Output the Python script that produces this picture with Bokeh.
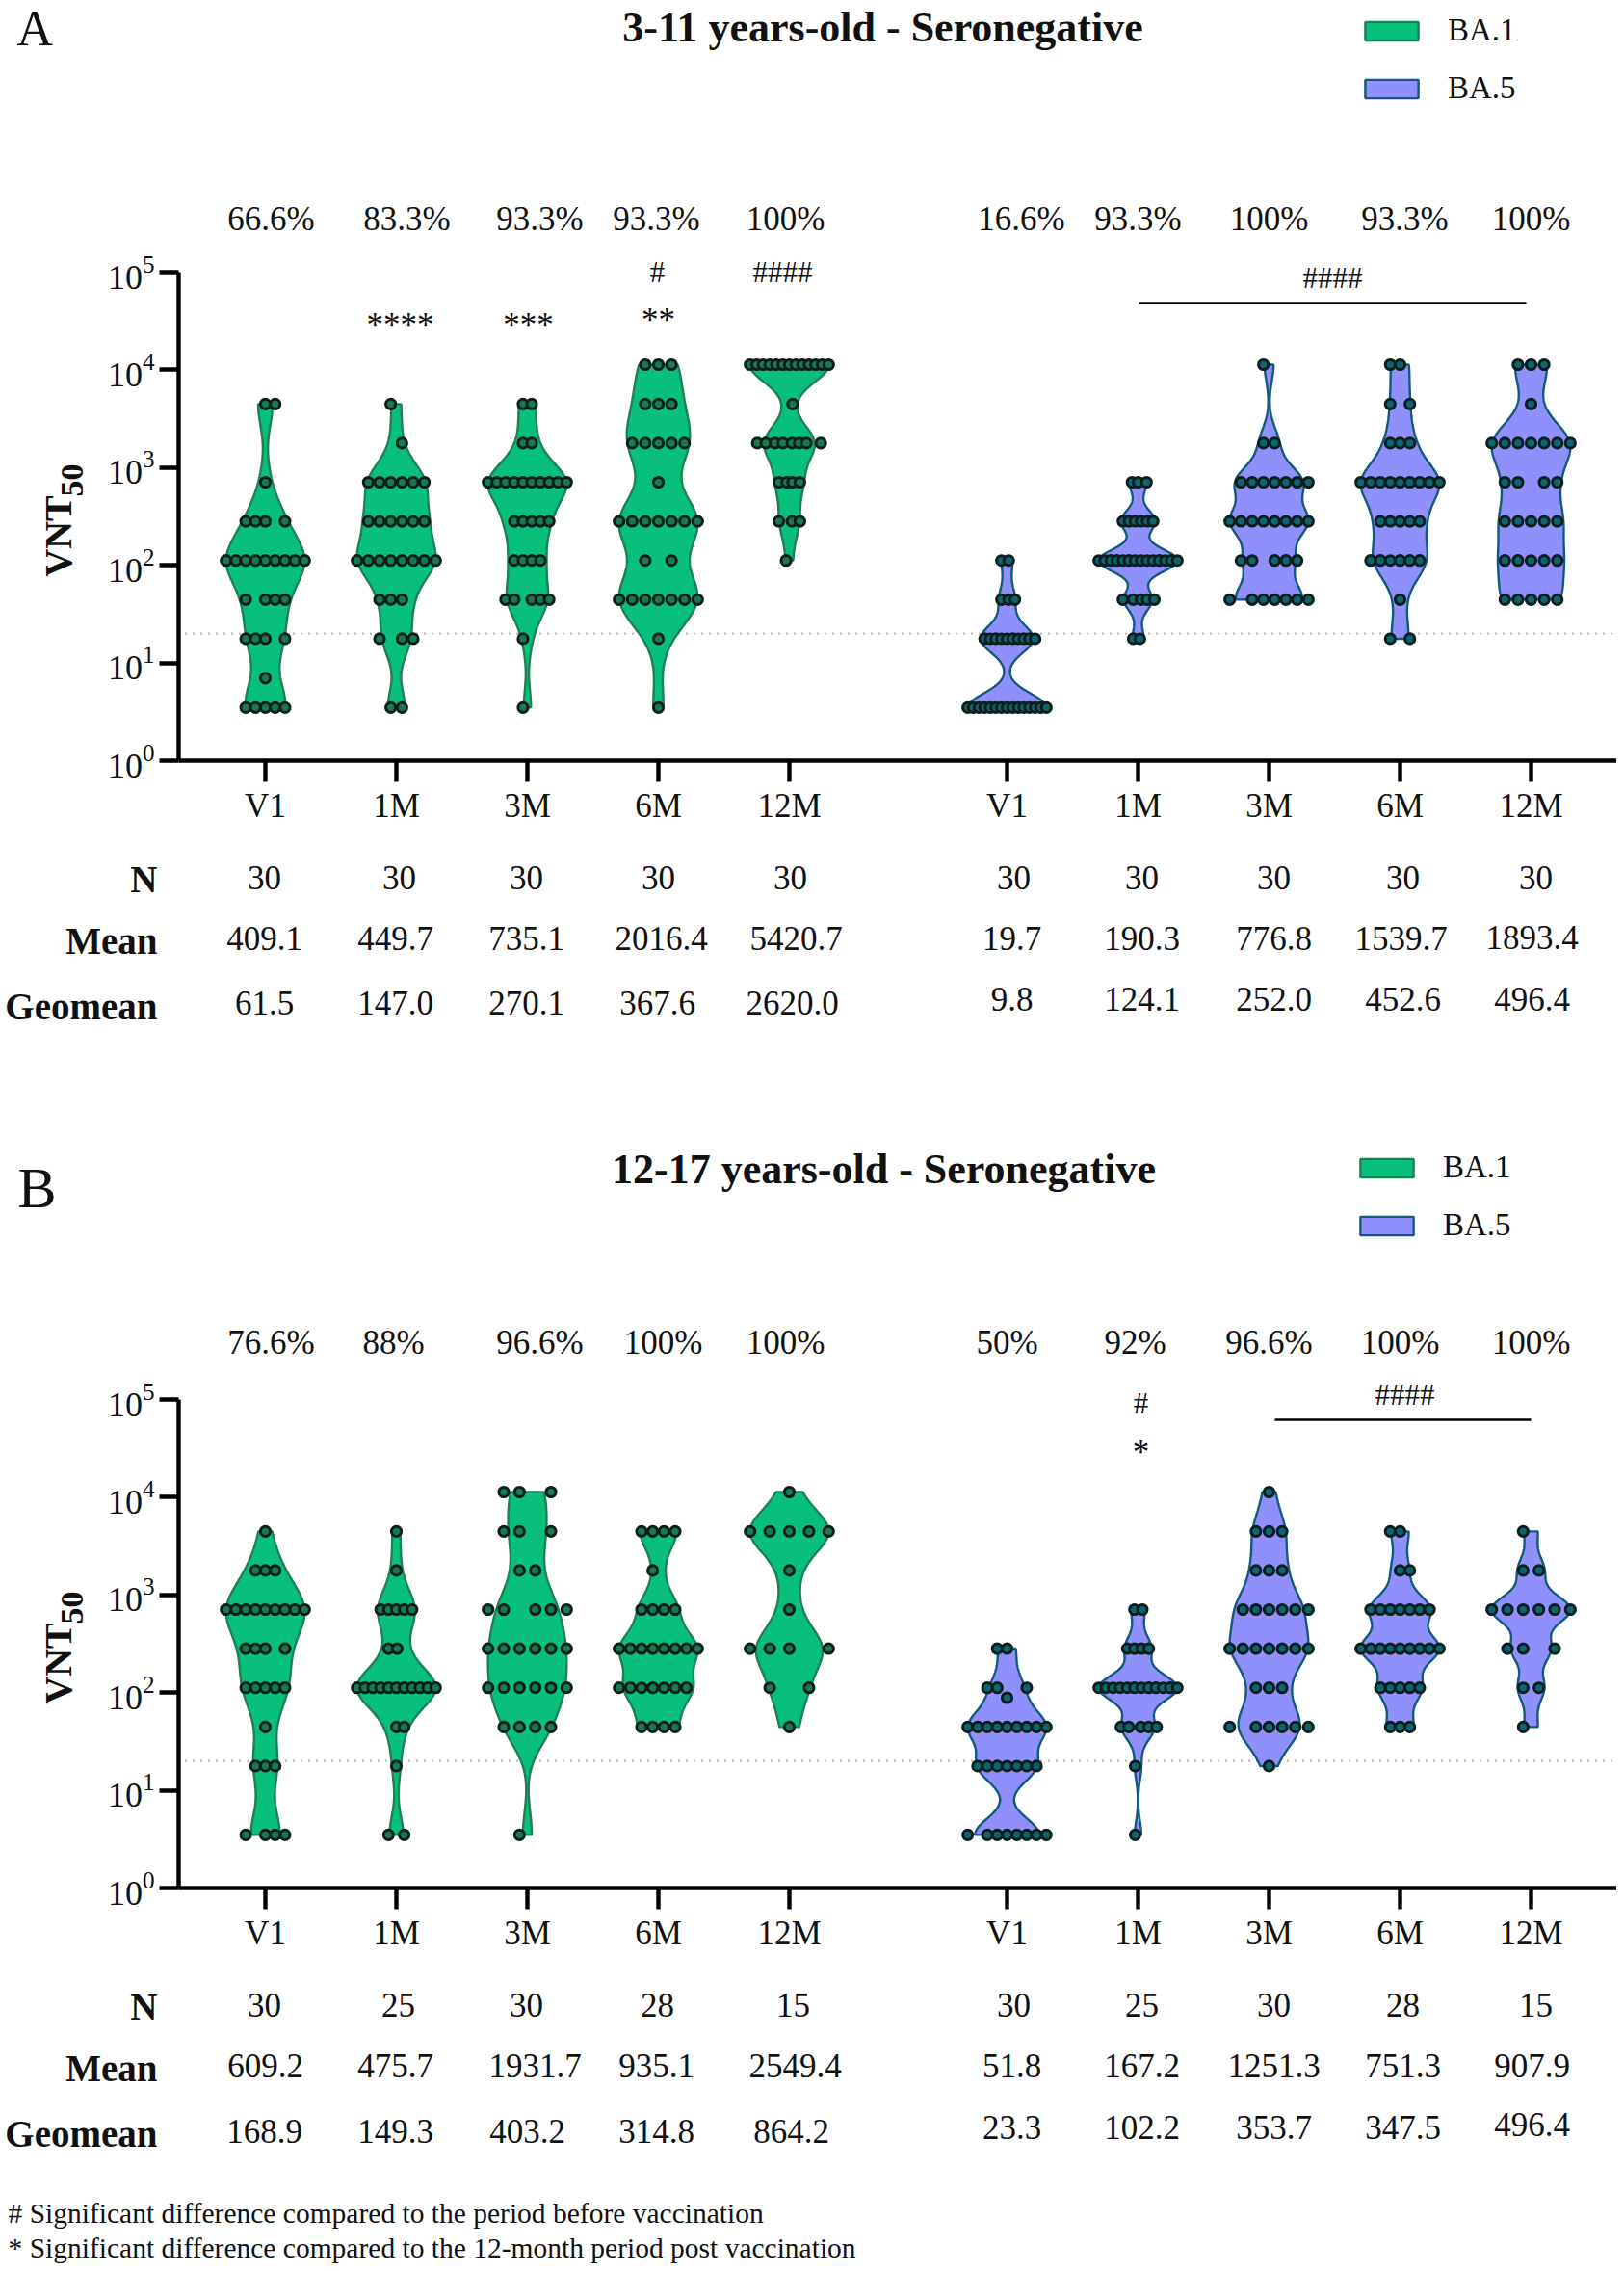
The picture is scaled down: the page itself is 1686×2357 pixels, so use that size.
import math
import numpy as np
from bokeh.embed import file_html
from bokeh.layouts import column
from bokeh.models import FixedTicker, Label, Legend, LegendItem
from bokeh.plotting import figure
from bokeh.resources import INLINE

# ---------- data ----------
TIMEPOINTS = ["V1", "1M", "3M", "6M", "12M"]
# one dict per violin: titre -> the swarm slots of the dots on that row
A_BA1 = [
    {4470: [0, 1], 708: [0], 282: [-2, -1, 0, 2], 112: [-4, -3, -2, -1, 0, 1, 2, 3, 4], 44.5: [-2, 0, 1, 2],
     17.7: [-2, -1, 0, 2], 7: [0], 3.5: [-2, -1, 0, 1, 2]},
    {4470: [-.5], 1780: [.5], 708: [-2.5, -1.5, -.5, .5, 1.5, 2.5], 282: [-2.5, -1.5, -.5, .5, 1.5, 2.5],
     112: [-3.5, -2.5, -1.5, -.5, .5, 1.5, 2.5, 3.5], 44.5: [-1.5, -.5, .5], 17.7: [-1.5, .5, 1.5], 3.5: [-.5, .5]},
    {4470: [-.5, .5], 1780: [-.5, .5], 708: [-4.5, -3.5, -2.5, -1.5, -.5, .5, 1.5, 2.5, 3.5, 4.5],
     282: [-1.5, -.5, .5, 1.5, 2.5], 112: [-1.5, -.5, .5, 1.5], 44.5: [-2.5, -1.5, .5, 1.5, 2.5], 17.7: [-.5], 3.5: [-.5]},
    {11300: [-1, 0, 1], 4470: [-1, 0, 1], 1780: [-2, -1, 0, 1, 2], 708: [0], 282: [-3, -2, -1, 0, 1, 2, 3],
     112: [-1, 1], 44.5: [-3, -2, -1, 0, 1, 2, 3], 17.7: [0], 3.5: [0]},
    {11300: [-6, -5, -4, -3, -2, -1, 0, 1, 2, 3, 4, 5, 6], 4470: [.5],
     1780: [-4.9, -3.6, -2.2, -1, .4, 1.5, 2.6, 4.8], 708: [-1.6, -.4, .5, 1.6], 282: [-1.6, .4, 1.6], 112: [-.5]},
]
A_BA5 = [
    {112: [-1, .3], 44.5: [-1, .3, 1.4], 17.7: [-4, -3, -2, -1, 0, 1, 2, 3, 4, 5],
     3.5: [-7, -6, -5, -4, -3, -2, -1, 0, 1, 2, 3, 4, 5, 6, 7]},
    {708: [-1, 0, 1.4], 282: [-2.5, -1.5, -.5, .5, 1.5, 2.5],
     112: [-6.5, -5.5, -4.5, -3.5, -2.5, -1.5, -.5, .5, 1.5, 2.5, 3.5, 4.5, 5.5, 6.5],
     44.5: [-2.5, -.8, .5, 1.5, 2.7], 17.7: [-.8, .3]},
    {11300: [-.5], 1780: [-.5, .5], 708: [-2.5, -1.5, -.5, .5, 1.5, 2.5, 3.5],
     282: [-3.5, -2.5, -1.5, -.5, .5, 1.5, 2.5, 3.5], 112: [-2.5, -1.5, .5, 1.5, 2.5],
     44.5: [-3.5, -1.5, -.5, .5, 1.5, 2.5, 3.5]},
    {11300: [-1, 0], 4470: [-1, 1], 1780: [-1, 0, 1], 708: [-4, -3, -2, -1, 0, 1, 2, 3, 4], 282: [-2, -1, 0, 1, 2],
     112: [-3, -2, -1, 0, 1, 2], 44.5: [0], 17.7: [-1, 1]},
    {11300: [-1, 0, 1], 4470: [0], 1780: [-3, -2, -1, 0, 1, 2, 3], 708: [-2, -1, 1, 2], 282: [-2, -1, 0, 1, 2],
     112: [-2, -1, 0, 1, 2], 44.5: [-2, -1, 0, 1, 2]},
]
B_BA1 = [
    {4470: [0], 1780: [-1, 0, 1], 708: [-4, -3, -2, -1, 0, 1, 2, 3, 4], 282: [-2, -1, 0, 2], 112: [-2, -1, 0, 1, 2],
     44.5: [0], 17.7: [-1, 0, 1], 3.5: [-2, 0, 1, 2]},
    {4470: [0], 1780: [0], 708: [-2, -1, 0, 1, 2], 282: [-1, .1], 112: [-5, -4, -3, -2, -1, 0, 1, 2, 3, 4, 5],
     44.5: [0, 1], 17.7: [0], 3.5: [-1, 1]},
    {11300: [-1.5, -.5, 1.5], 4470: [-1.5, -.5, 1.5], 1780: [-.5, .5], 708: [-2.5, -1.5, .5, 1.5, 2.5],
     282: [-2.5, -1.5, -.5, .5, 1.5, 2.5], 112: [-2.5, -1.5, -.5, .5, 1.5, 2.5], 44.5: [-1.5, -.5, .5, 1.5], 3.5: [-.5]},
    {4470: [-1.5, -.5, .5, 1.5], 1780: [-.5], 708: [-1.5, -.5, .5, 1.5],
     282: [-3.5, -2.5, -1.5, -.5, .5, 1.5, 2.5, 3.5], 112: [-3.5, -2.5, -1.5, -.5, .5, 1.5, 2.5],
     44.5: [-1.5, -.5, .5, 1.5]},
    {11300: [0], 4470: [-2, -1, 0, 1, 2], 1780: [0], 708: [0], 282: [-2, -1, 0, 2], 112: [-1, 1], 44.5: [0]},
]
B_BA5 = [
    {282: [-1, 0], 112: [-2, -1, 2], 88.7: [0], 44.5: [-4, -3, -2, -1, 0, 1, 2, 3, 4],
     17.7: [-3, -2, -1, 0, 1, 2, 3], 3.5: [-4, -2, -1, 0, 1, 2, 3, 4]},
    {708: [-.5, .6], 282: [-1.5, -.5, .5, 1.5],
     112: [-5.5, -4.5, -3.5, -2.5, -1.5, -.5, .5, 1.5, 2.5, 3.5, 4.5, 5.5],
     44.5: [-2.4, -1.3, .4, 1.5, 2.6], 17.7: [-.4], 3.5: [-.4]},
    {11300: [0], 4470: [-1, 0, 1], 1780: [-1, 0, 1], 708: [-2, -1, 0, 1, 2, 3], 282: [-3, -2, -1, 0, 1, 2, 3],
     112: [-1, 0, 1], 44.5: [-3, -1, 0, 1, 2, 3], 17.7: [0]},
    {4470: [-1, 0], 1780: [0, 1], 708: [-3, -2, -1, 0, 1, 2, 3], 282: [-4, -3, -2, -1, 0, 1, 2, 3, 4],
     112: [-2, -1, 0, 1, 2], 44.5: [-1, 0, 1]},
    {4470: [-.5], 1780: [-.5, .5], 708: [-2.5, -1.5, -.5, .5, 1.5, 2.5], 282: [-1.5, -.5, 1.5], 112: [-.5, .5], 44.5: [-.5]},
]
A_PCT = ["66.6%", "83.3%", "93.3%", "93.3%", "100%", "16.6%", "93.3%", "100%", "93.3%", "100%"]
B_PCT = ["76.6%", "88%", "96.6%", "100%", "100%", "50%", "92%", "96.6%", "100%", "100%"]
A_N = [30, 30, 30, 30, 30, 30, 30, 30, 30, 30]
B_N = [30, 25, 30, 28, 15, 30, 25, 30, 28, 15]
A_MEAN = ["409.1", "449.7", "735.1", "2016.4", "5420.7", "19.7", "190.3", "776.8", "1539.7", "1893.4"]
B_MEAN = ["609.2", "475.7", "1931.7", "935.1", "2549.4", "51.8", "167.2", "1251.3", "751.3", "907.9"]
A_GEO = ["61.5", "147.0", "270.1", "367.6", "2620.0", "9.8", "124.1", "252.0", "452.6", "496.4"]
B_GEO = ["168.9", "149.3", "403.2", "314.8", "864.2", "23.3", "102.2", "353.7", "347.5", "496.4"]
THRESHOLD = 20
Y_TICKS = [1, 10, 100, 1000, 10000, 100000]

# ---------- layout (page pixels) ----------
FONT = "Liberation Serif"
GREEN, GREEN_EDGE, GREEN_DOT = "#08C07C", "#1F7F58", "#197A4E"
PURPLE, PURPLE_EDGE, PURPLE_DOT = "#9090FC", "#12597A", "#0D6472"
DOT_EDGE = "#0C1F1C"
FIG_W = 1678
FRAME_L, FRAME_R = 185, 1683
TICK0, TICK_STEP = 275, 136
PX_PER_DECADE = 101.4
GROUP2 = (1045 - 275) / 136
X_POS = [0, 1, 2, 3, 4] + [GROUP2 + i for i in range(5)]
HALF = 40.8 / TICK_STEP
BW_FACTOR = 0.29


def q_of(px):
    return (px - TICK0) / TICK_STEP


def kde_outline(rows):
    ys = np.array([math.log10(v) for v in rows for _ in rows[v]])
    grid = np.linspace(ys.min(), ys.max(), 240)
    h = BW_FACTOR * ys.std()
    dens = np.exp(-((grid[:, None] - ys[None, :]) ** 2) / (2 * h * h)).sum(axis=1)
    return 10 ** grid, dens / dens.max()


def panel(rows_1, rows_2, pct, ns, means, geos, top, bottom, frame_bot,
          title, title_xy, letter, letter_xy, letter_size, pct_y, pct_x, tbl, extra, bar, legend_xy, notes=()):
    height = bottom - top

    def y_of(py):
        return 10 ** ((frame_bot - py) / PX_PER_DECADE)

    p = figure(width=FIG_W, height=height, output_backend="svg", toolbar_location=None,
               y_axis_type="log", x_range=(q_of(0), q_of(FIG_W)), y_range=(y_of(bottom), y_of(top)),
               min_border_left=0, min_border_right=0, min_border_top=0, min_border_bottom=0)
    p.outline_line_color = None
    p.grid.visible = False

    xa, ya = p.xaxis[0], p.yaxis[0]
    xa.ticker = FixedTicker(ticks=X_POS)
    xa.major_label_overrides = {x: TIMEPOINTS[i % 5] for i, x in enumerate(X_POS)}
    ya.ticker = FixedTicker(ticks=Y_TICKS)
    xa.fixed_location = 1
    ya.fixed_location = q_of(FRAME_L)
    xa.bounds = (q_of(FRAME_L), q_of(FRAME_R))
    ya.bounds = (1, 100000)
    for ax in (xa, ya):
        ax.axis_line_width = 4.4
        ax.axis_line_color = "black"
        ax.major_tick_line_width = 4.4
        ax.major_tick_line_color = "black"
        ax.minor_tick_line_color = None
        ax.major_tick_in = 0
        ax.major_label_text_font = FONT
        ax.major_label_text_color = "#111111"
    xa.major_tick_out = 22
    ya.major_tick_out = 20
    xa.major_label_text_font_size = "35px"
    ya.major_label_text_font_size = "36px"
    xa.major_label_standoff = 5
    ya.major_label_standoff = 5

    p.line([q_of(192), q_of(1678)], [THRESHOLD, THRESHOLD], line_color="#777777",
           line_width=2.4, line_dash="1 7")

    legend_items = []
    for rows_set, offset, fill, edge, dot, name in (
        (rows_1, 0, GREEN, GREEN_EDGE, GREEN_DOT, "BA.1"),
        (rows_2, 5, PURPLE, PURPLE_EDGE, PURPLE_DOT, "BA.5"),
    ):
        xs, ys, dx, dy = [], [], [], []
        for i, rows in enumerate(rows_set):
            c = X_POS[offset + i]
            yy, w = kde_outline(rows)
            xs.append(np.concatenate([c - HALF * w, (c + HALF * w)[::-1]]))
            ys.append(np.concatenate([yy, yy[::-1]]))
            spread = max(abs(s) for r in rows.values() for s in r)
            step = HALF / spread if spread else 0
            for v, slots in rows.items():
                for s in slots:
                    dx.append(c + s * step)
                    dy.append(v)
        r = p.patches(xs, ys, fill_color=fill, line_color=edge, line_width=2.4)
        p.scatter(dx, dy, size=10.2, fill_color=dot, line_color=DOT_EDGE, line_width=3)
        legend_items.append(LegendItem(label=name, renderers=[r]))

    def add(text, x, y, size, bold=False, align="center", angle=0):
        p.add_layout(Label(x=x, y=bottom - y, x_units="screen", y_units="screen", text=text,
                           text_font=FONT, text_font_size=f"{size}px", text_align=align,
                           text_baseline="middle", angle=angle, text_color="#111111",
                           text_font_style="bold" if bold else "normal"))

    p.line([q_of(bar[0]), q_of(bar[1])], [y_of(bar[2])] * 2, line_color="black", line_width=2.6)

    leg = Legend(items=legend_items, location=(legend_xy[0], bottom - legend_xy[1]),
                 background_fill_alpha=0, border_line_alpha=0,
                 glyph_width=69, glyph_height=24, label_text_font=FONT, label_text_font_size="33px",
                 label_standoff=24, spacing=23, margin=0, padding=0, label_text_color="#111111")
    p.add_layout(leg)

    add(title, title_xy[0], title_xy[1], 44, bold=True)
    add(letter, letter_xy[0], letter_xy[1], letter_size, align="left")
    add("VNT", 60, frame_bot - 233, 40, bold=True, angle=math.pi / 2)
    add("50", 74, frame_bot - 291, 34, bold=True, angle=math.pi / 2)
    for x, s in zip(pct_x, pct):
        add(s, x, pct_y - 1, 35)
    for (label, vals, lab_y, val_y, xs_) in tbl(ns, means, geos):
        add(label, 163, lab_y - 1.5, 39, bold=True, align="right")
        for x, s, vy in zip(xs_, vals, val_y):
            add(str(s), x, vy - 1.5, 35)
    for text, x, y, size in extra:
        add(text, x, y, size)
    for text, y in notes:
        add(text, 8, y, 29.5, align="left")
    return p


def tbl_a(ns, means, geos):
    return [
        ("N", ns, 913, [912] * 10, [274, 414, 546, 683, 820, 1052, 1185, 1322, 1456, 1594]),
        ("Mean", means, 977, [975] * 9 + [974], [274, 410, 546, 686, 826, 1050, 1185, 1322, 1454, 1590]),
        ("Geomean", geos, 1045, [1042] * 5 + [1038] * 5, [274, 410, 546, 682, 822, 1050, 1185, 1322, 1456, 1590]),
    ]


def tbl_b(ns, means, geos):
    return [
        ("N", ns, 2083, [2082] * 10, [274, 413, 546, 682, 823, 1052, 1185, 1322, 1456, 1594]),
        ("Mean", means, 2147, [2145] * 10, [275, 410, 555, 681, 825, 1050, 1185, 1322, 1456, 1590]),
        ("Geomean", geos, 2215, [2213] * 5 + [2209] * 4 + [2206], [274, 410, 547, 681, 821, 1050, 1185, 1322, 1456, 1590]),
    ]


pa = panel(A_BA1, A_BA5, A_PCT, A_N, A_MEAN, A_GEO, 0, 1122, 789,
           "3-11 years-old - Seronegative", (916, 28), "A", (17, 29), 52, 228,
           [281, 422, 560, 681, 815, 1060, 1181, 1317, 1458, 1589], tbl_a,
           [("#", 682, 282, 31), ("####", 812, 282, 31), ("****", 415, 337, 35), ("***", 548, 337, 35),
            ("**", 683, 332, 35), ("####", 1383, 288, 31)],
           (1182, 1584, 314), (1410, 110))

pb = panel(B_BA1, B_BA5, B_PCT, B_N, B_MEAN, B_GEO, 1122, 2349, 1959,
           "12-17 years-old - Seronegative", (917, 1213), "B", (18, 1232), 60, 1394,
           [281, 408, 560, 688, 815, 1045, 1178, 1317, 1453, 1589], tbl_b,
           [("#", 1184, 1456, 31), ("*", 1184, 1507, 35), ("####", 1458, 1447, 31)],
           (1323, 1589, 1473), (1405, 1290),
           notes=[("# Significant difference compared to the period before vaccination", 2296),
                  ("* Significant difference compared to the 12-month period post vaccination", 2332)])

open("out.html", "w").write(file_html(column(pa, pb, spacing=0), INLINE))
